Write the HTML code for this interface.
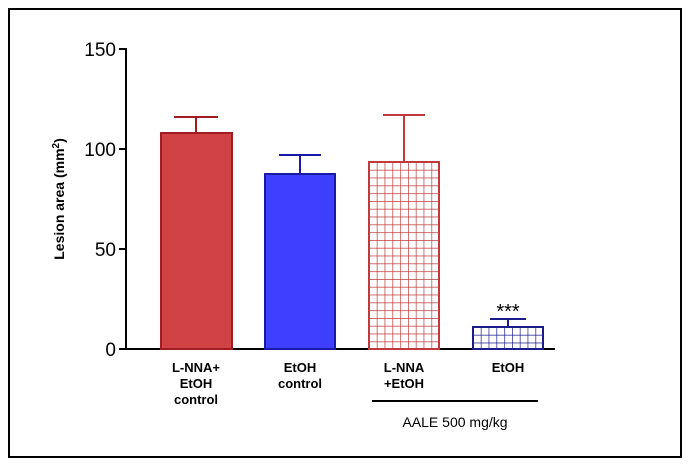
<!DOCTYPE html><html><head><style>body{margin:0;background:#fff}</style></head><body>
<svg width="690" height="464" xmlns="http://www.w3.org/2000/svg" font-family="Liberation Sans, Arial, sans-serif">
<defs>
<pattern id="pr" width="7.8" height="7.8" patternUnits="userSpaceOnUse" x="369" y="162"><rect width="7.8" height="7.8" fill="#fff"/><path d="M0 0H7.8M0 0V7.8" stroke="#c0393b" stroke-width="1.4"/></pattern>
<pattern id="pb" width="7.8" height="7.8" patternUnits="userSpaceOnUse" x="473" y="327"><rect width="7.8" height="7.8" fill="#fff"/><path d="M0 0H7.8M0 0V7.8" stroke="#1c1c8c" stroke-width="1.4"/></pattern>
</defs>
<rect x="9" y="9" width="672" height="448" fill="#fff" stroke="#000" stroke-width="2"/>
<g stroke="#000" stroke-width="2">
<line x1="126" y1="48" x2="126" y2="350"/><line x1="125" y1="349" x2="555" y2="349"/>
<line x1="119" y1="49" x2="126" y2="49"/><line x1="119" y1="149" x2="126" y2="149"/><line x1="119" y1="249" x2="126" y2="249"/><line x1="119" y1="349" x2="126" y2="349"/>
<line x1="372" y1="401" x2="538" y2="401"/>
</g>
<g font-size="19" text-anchor="end" fill="#000"><text x="116" y="56">150</text><text x="116" y="156">100</text><text x="116" y="256">50</text><text x="116" y="356">0</text></g>
<text transform="translate(64,199) rotate(-90)" font-size="14" font-weight="bold" text-anchor="middle">Lesion area (mm<tspan dy="-5" font-size="10">2</tspan><tspan dy="5">)</tspan></text>
<g stroke-width="2">
<line x1="196" y1="133" x2="196" y2="117" stroke="#a01c22"/><line x1="174" y1="117" x2="218" y2="117" stroke="#a01c22"/>
<rect x="161" y="133" width="71" height="216" fill="#d04244" stroke="#a01c22"/>
<line x1="300" y1="174" x2="300" y2="155" stroke="#1a1aa8"/><line x1="279" y1="155" x2="321" y2="155" stroke="#1a1aa8"/>
<rect x="265" y="174" width="70" height="175" fill="#3f3fff" stroke="#1a1aa8"/>
<line x1="404" y1="162" x2="404" y2="115" stroke="#c0393b"/><line x1="383" y1="115" x2="425" y2="115" stroke="#c0393b"/>
<rect x="369" y="162" width="70" height="187" fill="url(#pr)" stroke="#c0393b"/>
<line x1="508" y1="327" x2="508" y2="319" stroke="#1c1c8c"/><line x1="490" y1="319" x2="526" y2="319" stroke="#1c1c8c"/>
<rect x="473" y="327" width="70" height="22" fill="url(#pb)" stroke="#1c1c8c"/>
</g>
<text x="508" y="318" font-size="20" text-anchor="middle">***</text>
<g font-size="13" font-weight="bold" text-anchor="middle">
<text x="196" y="372">L-NNA+</text><text x="196" y="388">EtOH</text><text x="196" y="404">control</text>
<text x="300" y="372">EtOH</text><text x="300" y="388">control</text>
<text x="404" y="372">L-NNA</text><text x="404" y="388">+EtOH</text>
<text x="508" y="372">EtOH</text>
</g>
<text x="455" y="427" font-size="14" text-anchor="middle">AALE 500 mg/kg</text>
</svg>
</body></html>
